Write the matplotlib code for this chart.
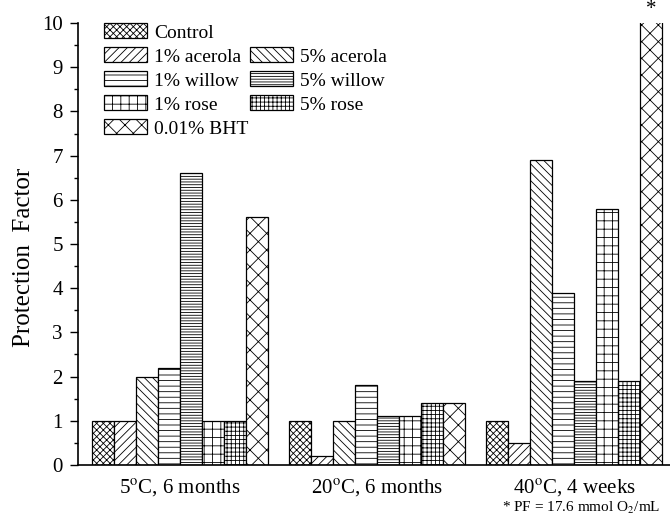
import numpy as np
import matplotlib
matplotlib.use("Agg")
import matplotlib.pyplot as plt
from matplotlib.patches import Patch

plt.rcParams['font.family'] = 'Liberation Serif'
plt.rcParams['mathtext.fontset'] = 'stix'
plt.rcParams['hatch.linewidth'] = 0.6

# data
groups = ["5$^{\\mathrm{o}}$C, 6 months", "20$^{\\mathrm{o}}$C, 6 months", "40$^{\\mathrm{o}}$C, 4 weeks"]
treatments = ["Control", "1% acerola", "5% acerola", "1% willow", "5% willow",
              "1% rose", "5% rose", "0.01% BHT"]
control = [1.0, 1.0, 1.0]
acerola_1 = [1.0, 0.2, 0.5]
acerola_5 = [2.0, 1.0, 6.9]
willow_1 = [2.2, 1.8, 3.9]
willow_5 = [6.6, 1.1, 1.9]
rose_1 = [1.0, 1.1, 5.8]
rose_5 = [1.0, 1.4, 1.9]
bht = [5.6, 1.4, 17.6]   # 17.6 goes off scale, marked with *

series = [control, acerola_1, acerola_5, willow_1, willow_5, rose_1, rose_5, bht]
hatches = ['xxxxx', '////', '\\\\\\\\', '---', '------', '++', '++++', 'xx']

fig = plt.figure(figsize=(6.7, 5.24), dpi=100)
ax = fig.add_axes([0.1164, 0.1126, 0.8836, 0.8435])

w = 0.1117
x = np.arange(len(groups))
bars = []
for i, vals in enumerate(series):
    b = ax.bar(x + (i - 3.5) * w, vals, w, color='white', edgecolor='black',
               linewidth=0.9, hatch=hatches[i], label=treatments[i])
    bars.append(b)

ax.set_xlim(-0.518, 2.487)
ax.set_ylim(0, 10)
ax.set_yticks(np.arange(0, 11, 1))
ax.set_yticks(np.arange(0.5, 10, 1), minor=True)
ax.tick_params(axis='y', which='major', direction='out', length=6, width=1, labelsize=15, pad=5)
ax.tick_params(axis='y', which='minor', direction='out', length=3, width=1)
ax.set_xticks(x)
ax.set_xticklabels(groups)
ax.tick_params(axis='x', length=0, labelsize=15, pad=9)
ax.spines['top'].set_visible(False)
ax.spines['right'].set_visible(False)
ax.spines['left'].set_linewidth(1.2)
ax.spines['bottom'].set_linewidth(1.2)

ax.set_ylabel("Protection  Factor", fontsize=18)
ax.yaxis.set_label_coords(-0.073, 0.47)

# star over the off-scale BHT bar
ax.text(x[2] + 3.5 * w, 10.1, "*", ha='center', va='bottom', fontsize=15, clip_on=False)

# legend: two columns, blanks in column 2
blank = Patch(facecolor='none', edgecolor='none', label=' ')
h = [b.patches[0] for b in bars]
handles = [h[0], h[1], h[3], h[5], h[7], blank, h[2], h[4], h[6], blank]
labels = [treatments[0], treatments[1], treatments[3], treatments[5], treatments[7],
          '', treatments[2], treatments[4], treatments[6], '']
leg = ax.legend(handles, labels, ncol=2, loc='upper left', bbox_to_anchor=(0.0215, 1.03),
                frameon=False, fontsize=14, handlelength=2.2, handleheight=0.8,
                handletextpad=0.35, labelspacing=0.3, columnspacing=0.1, borderpad=0.2)

fig.text(0.985, 0.03, "* PF = 17.6 mmol O$_2$/mL", ha='right', va='center', fontsize=11)

fig.savefig("out.png", dpi=100)
